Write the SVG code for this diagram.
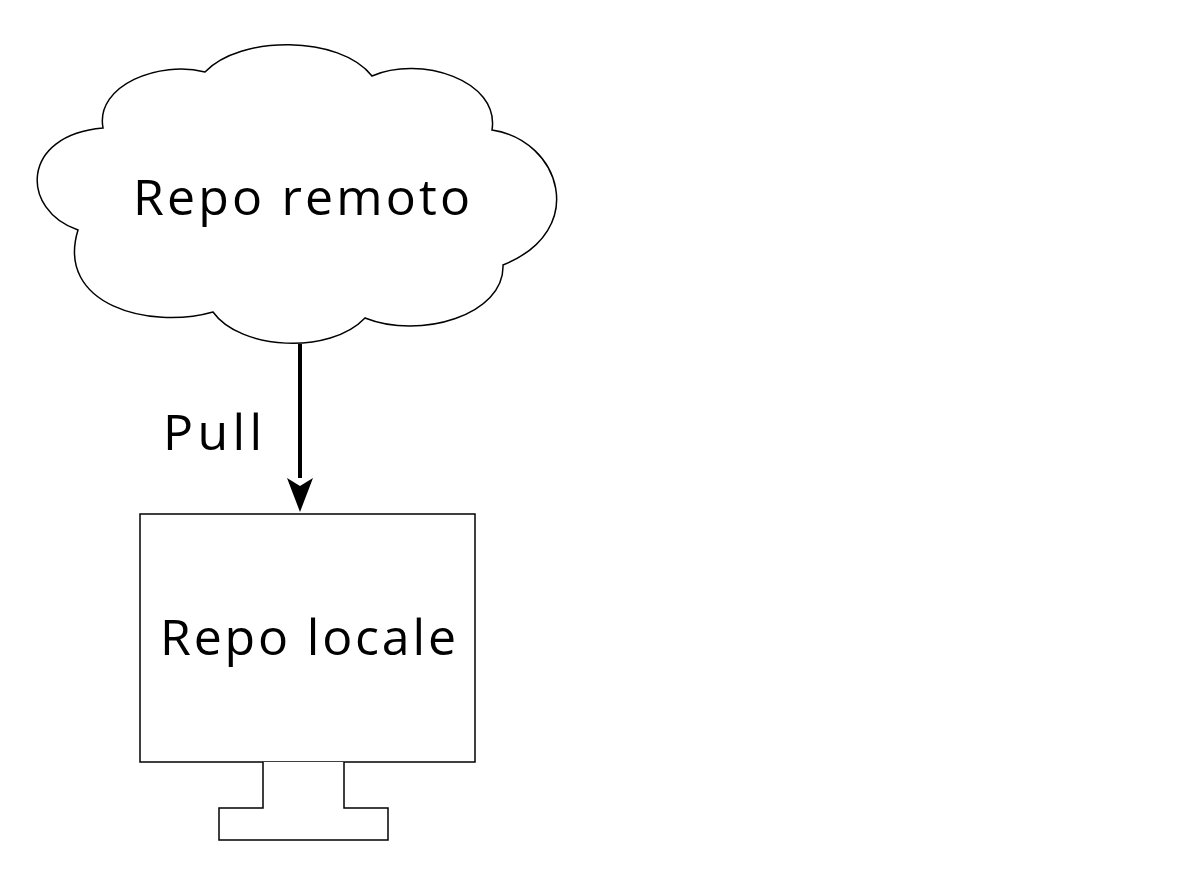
<svg xmlns="http://www.w3.org/2000/svg" width="1197" height="896" viewBox="0 0 1197 896">
<style>
.s{fill:#fff;stroke:#000;stroke-width:1.5}
.t{font-family:"Open Sans","Liberation Sans",sans-serif;font-size:50px;fill:#000}
</style>
<defs><marker id="ah" markerWidth="8" markerHeight="10" refX="7" refY="5" orient="auto" markerUnits="userSpaceOnUse" viewBox="0 0 8 10"><path d="M0,0 L8,5 L0,10 L2,5 Z" fill="#000"/></marker></defs>
<rect width="1197" height="896" fill="#fff"/>
<g id="cloud">
<path class="s" d="M103,128 C95,85 160,60 205,72 C240,35 340,35 372,76 C420,55 500,80 492,130 C560,140 590,230 503,265 C505,315 420,340 365,318 C330,355 240,350 213,312 C150,330 55,305 78,230 C20,210 20,135 103,128 Z"/>
<text class="t" x="133" y="215" textLength="337">Repo remoto</text>
</g>
<g id="local">
<rect class="s" x="140" y="514" width="335" height="248"/>
<path class="s" d="M263,762 V808 H219 V840 H388 V808 H344 V762"/>
<text class="t" x="160" y="655" textLength="296">Repo locale</text>
</g>
<g id="connectors">
<line x1="300" y1="344" x2="300" y2="478" stroke="#000" stroke-width="4"/>
<path d="M287,478 L300,512 L313,478 L300,486 Z" fill="#000"/>
<text class="t" x="163" y="450" textLength="99">Pull</text>
</g>
</svg>
